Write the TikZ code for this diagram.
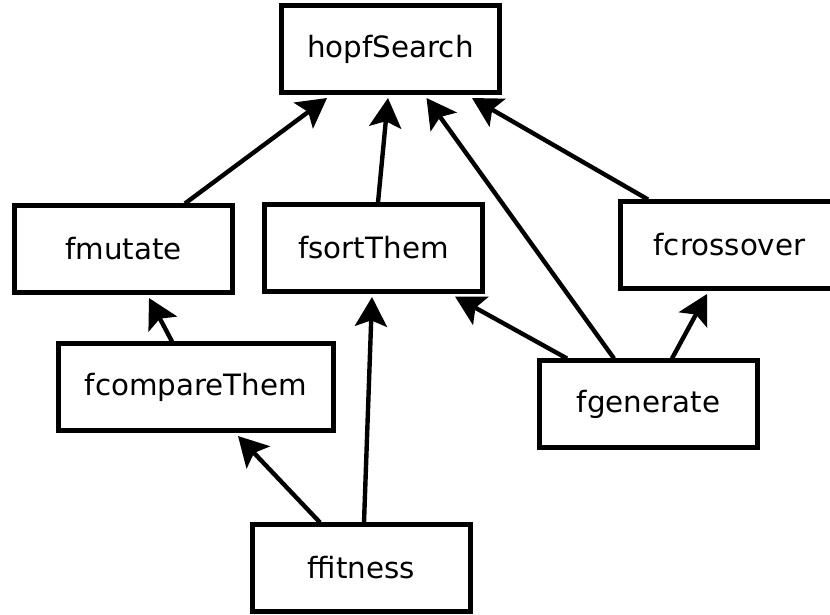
\documentclass[tikz,border=0pt]{standalone}
\usepackage{fontspec}
\setmainfont{DejaVu Sans}
\usetikzlibrary{arrows.meta,calc}
\begin{document}
\begin{tikzpicture}[x=0.75pt,y=-0.75pt,
  fn/.style={draw=black,line width=3.4pt,fill=white,minimum width=218*0.75pt,
    minimum height=86.5*0.75pt,inner sep=0pt,font=\fontsize{22}{26}\selectfont},
  call/.style={line width=3.3pt,-{Stealth[length=22pt,width=24pt,inset=4.5pt]}}]
\useasboundingbox (0,0) rectangle (830,614);
\clip (0,0) rectangle (830,614);
% functions of the call graph
\node[fn] (hop) at (390.5,49) {hopfSearch};
\node[fn] (fmu) at (123.5,249) {fmutate};
\node[fn] (fso) at (373.5,248) {fsortThem};
\node[fn] (fcr) at (729.5,245) {fcrossover};
\node[fn,minimum width=275*0.75pt] (fco) at (196,387) {fcompareThem};
\node[fn] (fge) at (648.5,404) {fgenerate};
\node[fn] (ffi) at (361.5,568) {ffitness};
% caller to callee edges
\draw[call] ($(fmu.north)+(61.5,0)$) -- ($(hop.south)+(-63.5,3.5)$);
\draw[call] ($(fso.north)+(4.5,0)$) -- ($(hop.south)+(-2.5,3.5)$);
\draw[call] ($(fge.north)+(-34.5,0)$) -- ($(hop.south)+(36,3.5)$);
\draw[call] ($(fcr.north)+(-81.5,0)$) -- ($(hop.south)+(81.5,3.5)$);
\draw[call] ($(fco.north)+(-24,0)$) -- ($(fmu.south)+(25.5,3.5)$);
\draw[call] ($(fge.north)+(-81.5,0)$) -- ($(fso.south)+(81.5,3)$);
\draw[call] ($(fge.north)+(23.5,0)$) -- ($(fcr.south)+(-22.5,3.5)$);
\draw[call] ($(ffi.north)+(-41.5,0)$) -- ($(fco.south)+(42,3.5)$);
\draw[call] ($(ffi.north)+(2.5,0)$) -- ($(fso.south)+(-1.5,3.5)$);
\end{tikzpicture}
\end{document}
